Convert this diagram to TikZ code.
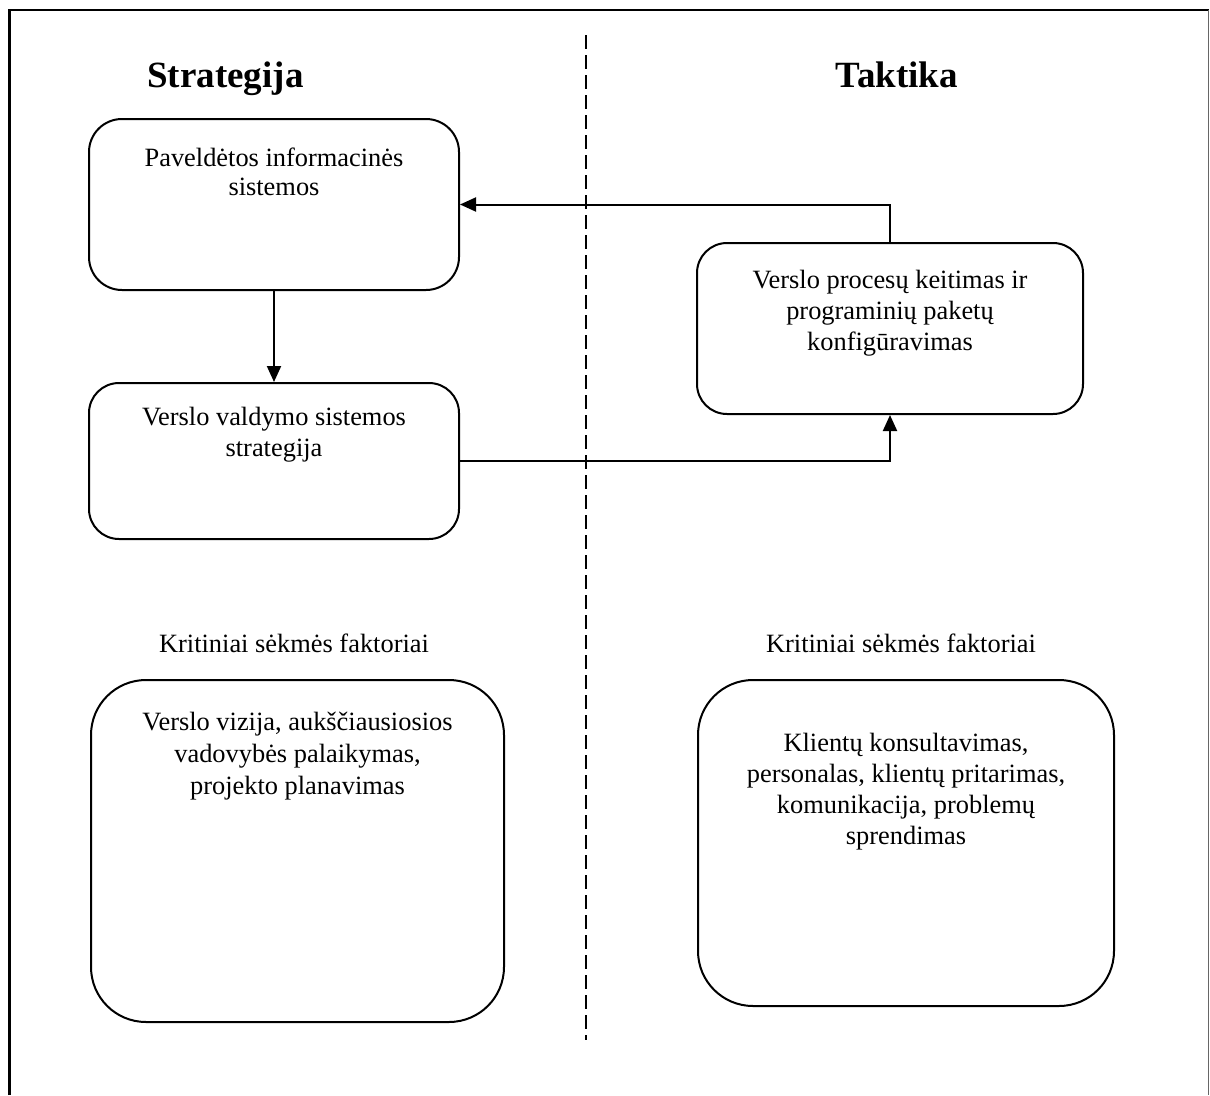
\documentclass[tikz,border=0pt]{standalone}
\usepackage{fontspec}
\setmainfont{Liberation Serif}
\usetikzlibrary{arrows.meta}
\begin{document}
\begin{tikzpicture}[x=1pt,y=-1pt,
  frame/.style={line width=2.2pt},
  box/.style={draw, line width=2pt, rounded corners=#1, inner sep=0pt},
  txt/.style={align=center, inner sep=0pt, anchor=north,
    font=\fontsize{26.4}{31}\selectfont},
  lbl/.style={inner sep=0pt, anchor=base, font=\fontsize{26.4}{31}\selectfont},
  title/.style={inner sep=0pt, anchor=base, font=\fontsize{37}{40}\selectfont\bfseries},
  arr/.style={line width=2pt, -{Triangle[length=16pt,width=14pt]}},
  divider/.style={line width=2pt, dash pattern=on 14pt off 6pt}]
\useasboundingbox (0,0) rectangle (1210,1095);

% outer frame: top and left edges heavy, right edge light
\draw[frame] (9.5,1095) -- (9.5,10) -- (1209,10);
\draw[line width=1pt, black!60] (1208,10) -- (1208,1095);

% column divider
\draw[divider] (586,35) -- (586,1040);

% column headings
\node[title] (hStrat) at (225.5,87) {Strategija};
\node[title] (hTakt) at (897,87) {Taktika};

% strategy boxes
\node[box=33pt, minimum width=370pt, minimum height=171pt] (b1) at (274,204.5) {};
\node[txt, font=\fontsize{26.4}{29}\selectfont] (t1) at (274,148) {Paveldėtos informacinės\\sistemos};

\node[box=30pt, minimum width=370pt, minimum height=156pt] (b2) at (274,461) {};
\node[txt] (t2) at (274,407) {Verslo valdymo sistemos\\strategija};

% tactics box
\node[box=30pt, minimum width=386pt, minimum height=171pt] (b3) at (890,328.5) {};
\node[txt] (t3) at (890,270) {Verslo procesų keitimas ir\\programinių paketų\\konfigūravimas};

% critical success factors
\node[lbl] (k1) at (294,652) {Kritiniai sėkmės faktoriai};
\node[lbl] (k2) at (901,652) {Kritiniai sėkmės faktoriai};

\node[box=55pt, minimum width=413pt, minimum height=342pt] (b4) at (297.5,851) {};
\node[txt, font=\fontsize{26.4}{32}\selectfont] (t4) at (297.5,712) {Verslo vizija, aukščiausiosios\\vadovybės palaikymas,\\projekto planavimas};

\node[box=55pt, minimum width=416pt, minimum height=326pt] (b5) at (906,843) {};
\node[txt] (t5) at (906,733) {Klientų konsultavimas,\\personalas, klientų pritarimas,\\komunikacija, problemų\\sprendimas};

% connectors
\draw[arr] (b1.south) -- (b2.north);
\draw[arr] (b3.north) |- (b1.east);
\draw[arr] (b2.east) -| (b3.south);
\end{tikzpicture}
\end{document}
